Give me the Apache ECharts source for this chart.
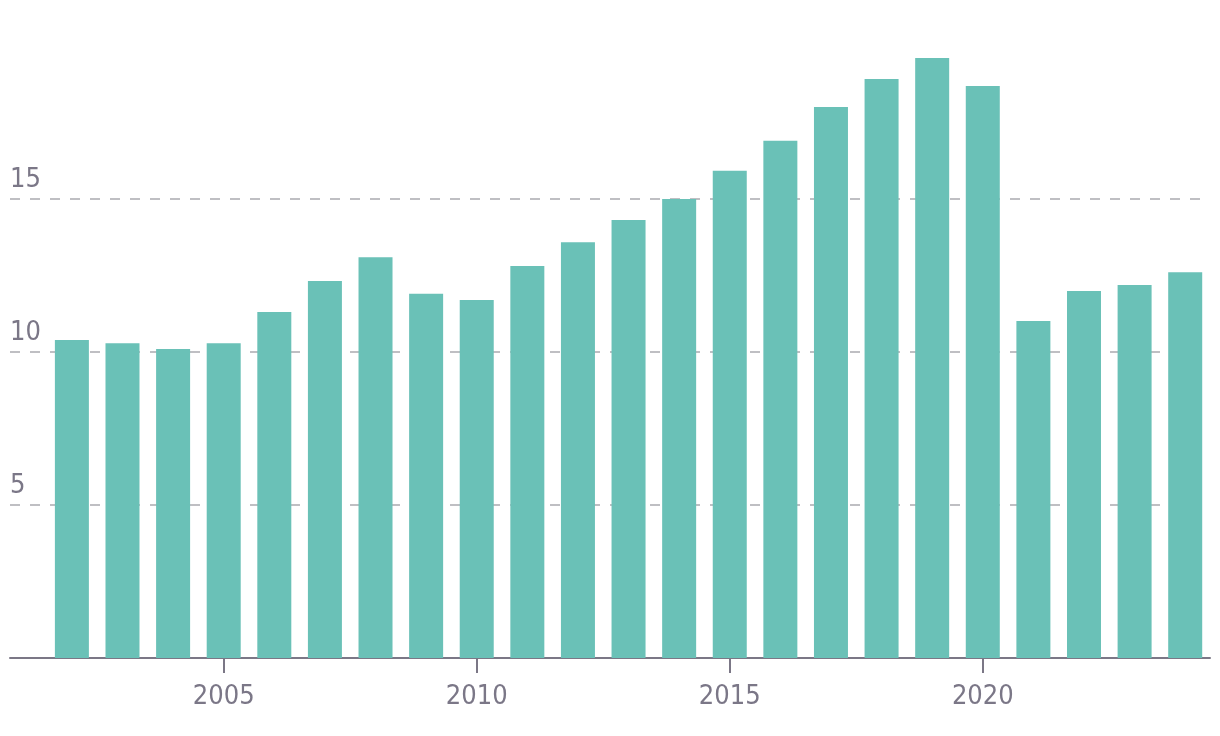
<!DOCTYPE html>
<html>
<head>
<meta charset="utf-8">
<script src="https://cdn.jsdelivr.net/npm/echarts@6/dist/echarts.min.js"></script>
<style>html,body{margin:0;padding:0;background:#fff;}#c{width:1220px;height:736px;}</style>
</head>
<body>
<div id="c"></div>
<script>
const years = [2002,2003,2004,2005,2006,2007,2008,2009,2010,2011,2012,2013,2014,2015,2016,2017,2018,2019,2020,2021,2022,2023,2024];
const values = [10.39,10.29,10.10,10.29,11.31,12.32,13.10,11.90,11.70,12.81,13.59,14.31,15.00,15.92,16.90,18.01,18.92,19.61,18.69,11.01,11.99,12.19,12.61];
const xTickLabels = [2005,2010,2015,2020];
const yTickLabels = [5,10,15];

const FONT = "'Liberation Sans Narrow','DejaVu Sans Condensed','Roboto',sans-serif";
const TXT = '#7b7787';
const chart = echarts.init(document.getElementById('c'), null, {renderer:'canvas'});
chart.setOption({
  animation: false,
  grid: {left: 10, right: 10, top: 46, bottom: 78, containLabel: false},
  xAxis: {
    type: 'value',
    min: 2000.777,
    max: 2024.49,
    splitLine: {show: false},
    axisLine: {show: true, lineStyle: {color: '#7b7786', width: 2}},
    axisTick: {show: true, customValues: xTickLabels, length: 15, lineStyle: {color: '#7b7786', width: 2}},
    axisLabel: {customValues: xTickLabels, color: TXT, fontFamily: FONT, fontSize: 27, margin: 25,
      formatter: v => String(v)}
  },
  yAxis: {
    type: 'value',
    min: 0, max: 20, interval: 5,
    axisLine: {show: false},
    axisTick: {show: false},
    splitLine: {show: true, showMinLine: false, showMaxLine: false,
      lineStyle: {color: '#bfbfc3', width: 2, type: [10,10]}},
    axisLabel: {inside: true, customValues: yTickLabels, color: TXT, fontFamily: FONT, fontSize: 27,
      margin: 0, verticalAlign: 'bottom', padding: [0,0,6,0], formatter: v => String(v)}
  },
  series: [{
    type: 'bar',
    data: years.map((y,i) => [y, values[i]]),
    barWidth: 34,
    itemStyle: {color: '#6ac1b7'},
    z: 3
  }]
});
</script>
</body>
</html>
